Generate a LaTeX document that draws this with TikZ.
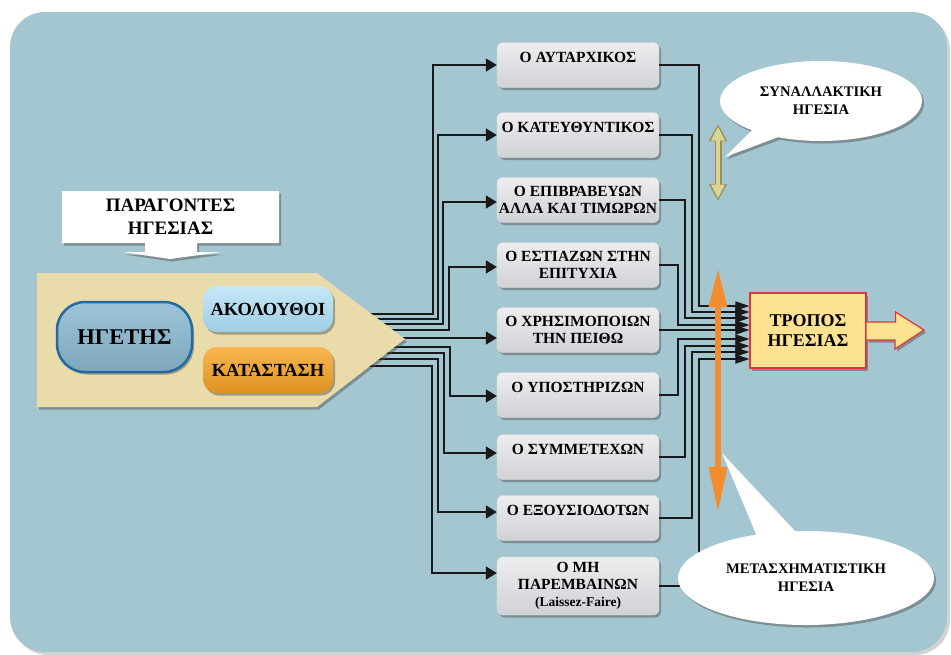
\documentclass[tikz,border=0pt]{standalone}
\usepackage{fontspec}
\setmainfont{Liberation Serif}
\usetikzlibrary{arrows.meta,shadows,shapes.callouts}

\definecolor{panelblue}{RGB}{163,198,208}
\definecolor{tanfill}{RGB}{233,219,170}
\definecolor{boxtop}{RGB}{238,238,240}
\definecolor{boxbot}{RGB}{208,209,213}
\definecolor{leaderfill}{RGB}{140,186,209}
\definecolor{leaderedge}{RGB}{36,106,160}
\definecolor{followfill}{RGB}{172,223,247}
\definecolor{situfill}{RGB}{246,163,36}
\definecolor{tropfill}{RGB}{253,226,146}
\definecolor{tropedge}{RGB}{226,52,52}
\definecolor{orangearr}{RGB}{242,140,44}
\definecolor{khakiarr}{RGB}{218,212,150}
\definecolor{khakiedge}{RGB}{150,144,88}

\tikzset{
  softshadow/.style={drop shadow={shadow xshift=2pt,shadow yshift=-2.5pt,opacity=.45,fill=black!70}},
  rolebox/.style={rounded corners=6pt, draw=white!75!gray, line width=.4pt,
    top color=boxtop, bottom color=boxbot, softshadow,
    minimum width=162pt, minimum height=45pt, inner sep=1pt, align=center,
    font=\bfseries\fontsize{15.5}{17}\selectfont},
  oneline/.style={text height=10pt, text depth=15pt},
  pill/.style={rounded corners=14pt, softshadow, minimum width=130pt, minimum height=46pt,
    font=\bfseries\fontsize{18.5}{20}\selectfont},
  link/.style={line width=1.7pt, draw=black!90},
  linkin/.style={link, -{Triangle[length=11pt,width=13pt]}},
  linkout/.style={link, -{Triangle[length=14pt,width=9pt]}},
  bubble/.style={ellipse callout, fill=white, softshadow, align=center, callout pointer arc=18,
    font=\bfseries\fontsize{14.6}{18}\selectfont},
}

\begin{document}
\begin{tikzpicture}[x=1pt,y=-1pt]
\useasboundingbox (0,0) rectangle (951,654);
\fill[panelblue, rounded corners=35pt, drop shadow={shadow xshift=3pt,shadow yshift=-3pt,opacity=.35}] (10,12) rectangle (947,652); % panel

% style boxes
\node[rolebox, oneline] (b1) at (578,65) {Ο ΑΥΤΑΡΧΙΚΟΣ};
\node[rolebox, oneline] (b2) at (578,135) {Ο ΚΑΤΕΥΘΥΝΤΙΚΟΣ};
\node[rolebox] (b3) at (578,200) {Ο ΕΠΙΒΡΑΒΕΥΩΝ\\ΑΛΛΑ ΚΑΙ ΤΙΜΩΡΩΝ};
\node[rolebox] (b4) at (578,265) {Ο ΕΣΤΙΑΖΩΝ ΣΤΗΝ\\ΕΠΙΤΥΧΙΑ};
\node[rolebox] (b5) at (578,330) {Ο ΧΡΗΣΙΜΟΠΟΙΩΝ\\ΤΗΝ ΠΕΙΘΩ};
\node[rolebox, oneline] (b6) at (578,395) {Ο ΥΠΟΣΤΗΡΙΖΩΝ};
\node[rolebox, oneline] (b7) at (578,457) {Ο ΣΥΜΜΕΤΕΧΩΝ};
\node[rolebox, oneline] (b8) at (578,518) {Ο ΕΞΟΥΣΙΟΔΟΤΩΝ};
\node[rolebox, minimum height=58pt] (b9) at (578,586) {Ο ΜΗ\\ΠΑΡΕΜΒΑΙΝΩΝ\\{\fontsize{13.5}{17}\selectfont(Laissez-Faire)}};

% result box
\node[rectangle, fill=tropfill, draw=tropedge, line width=1.2pt, softshadow, minimum width=116pt, minimum height=75pt,
  align=center, font=\bfseries\fontsize{18}{20}\selectfont] (tropos) at (808,330.5) {ΤΡΟΠΟΣ\\ΗΓΕΣΙΑΣ};
\draw[fill=tropfill, draw=tropedge, line width=1.2pt, softshadow] ([yshift=8.5pt]tropos.east) -- ++(29,0) -- ++(0,-10) -- (924,330) -- (895,349) -- ++(0,-9) -- ([yshift=-9.5pt]tropos.east);

% connectors into the boxes
\draw[linkin] (360,314) -| (433,65) -- (b1.west);
\draw[linkin] (360,319) -| (438,135) -- (b2.west);
\draw[linkin] (360,324) -| (443,202) -- (b3.west |- 443,202);
\draw[linkin] (360,330) -| (449,267) -- (b4.west |- 449,267);
\draw[linkin] (360,338) -- (b5.west |- 360,338);
\draw[linkin] (360,347) -| (450,396) -- (b6.west |- 450,396);
\draw[linkin] (360,353) -| (444,453) -- (b7.west |- 444,453);
\draw[linkin] (360,359) -| (438,512) -- (b8.west |- 438,512);
\draw[linkin] (360,366) -| (432,573) -- (b9.west |- 432,573);

% connectors out of the boxes
\draw[linkout] (b1.east) -| (699,306) -- (tropos.west |- 699,306);
\draw[linkout] (b2.east) -| (692,312) -- (tropos.west |- 692,312);
\draw[linkout] (b3.east) -| (685,318) -- (tropos.west |- 685,318);
\draw[linkout] (b4.east) -| (678,325) -- (tropos.west |- 678,325);
\draw[linkout] (b5.east) -- (tropos.west |- b5.east);
\draw[linkout] (b6.east) -| (678,339) -- (tropos.west |- 678,339);
\draw[linkout] (b7.east) -| (685,346) -- (tropos.west |- 685,346);
\draw[linkout] (b8.east) -| (692,352) -- (tropos.west |- 692,352);
\draw[linkout] (b9.east) -| (699,359) -- (tropos.west |- 699,359);

% factors
\fill[tanfill, softshadow] (37,273) -- (317,273) -- (405,339) -- (317,407) -- (37,407) -- cycle;
\node[pill, rounded corners=28pt, draw=leaderedge, line width=2.5pt, top color=leaderfill!85!white, bottom color=leaderfill!90!black,
  minimum width=135pt, minimum height=70pt, font=\bfseries\fontsize{22.5}{24}\selectfont] (leader) at (124.5,337) {ΗΓΕΤΗΣ};
\node[pill, top color=followfill!70!white, bottom color=followfill!92!black] (follow) at (268,309) {ΑΚΟΛΟΥΘΟΙ};
\node[pill, top color=situfill!80!white, bottom color=situfill!90!black] (situ) at (268,370) {ΚΑΤΑΣΤΑΣΗ};

\fill[white, softshadow] (62,191) -- (279,191) -- (279,243) -- (197,243) -- (197,252) -- (222,252) -- (170,259) -- (122,252) -- (145,252) -- (145,243) -- (62,243) -- cycle;
\node[align=center, font=\bfseries\fontsize{19}{23}\selectfont] (par) at (170.5,217) {ΠΑΡΑΓΟΝΤΕΣ\\ΗΓΕΣΙΑΣ};

% leadership ranges
\draw[draw=khakiedge, line width=7pt, {Triangle[length=17pt,width=17pt]}-{Triangle[length=17pt,width=17pt]}] (718,124) -- (718,201);
\draw[draw=khakiarr, line width=4.5pt, {Triangle[length=14pt,width=13pt]}-{Triangle[length=14pt,width=13pt]}] (718,126.5) -- (718,198.5);
\draw[draw=orangearr, line width=6pt, {Triangle[length=39pt,width=17pt]}-{Triangle[length=46pt,width=17pt]}] (718,268) -- (718,513);

\node[bubble, minimum width=202pt, minimum height=80pt, callout absolute pointer={(725,157)}] (trans) at (821,101) {ΣΥΝΑΛΛΑΚΤΙΚΗ\\ΗΓΕΣΙΑ};
\node[bubble, minimum width=256pt, minimum height=94pt, callout absolute pointer={(722,453)}] (transf) at (806,578) {ΜΕΤΑΣΧΗΜΑΤΙΣΤΙΚΗ\\ΗΓΕΣΙΑ};
\end{tikzpicture}
\end{document}
